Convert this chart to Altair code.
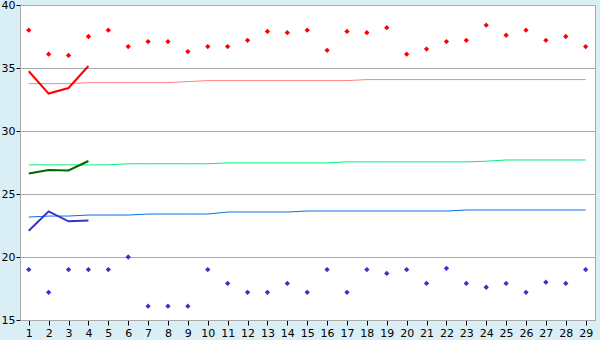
import altair as alt
import pandas as pd

days = list(range(1, 30))
red_pts = [38.0, 36.1, 36.0, 37.5, 38.0, 36.7, 37.1, 37.1, 36.3, 36.7,
           36.7, 37.2, 37.9, 37.8, 38.0, 36.4, 37.9, 37.8, 38.2, 36.1,
           36.5, 37.1, 37.2, 38.4, 37.6, 38.0, 37.2, 37.5, 36.7]
blue_pts = [19.0, 17.2, 19.0, 19.0, 19.0, 20.0, 16.1, 16.1, 16.1, 19.0,
            17.9, 17.2, 17.2, 17.9, 17.2, 19.0, 17.2, 19.0, 18.7, 19.0,
            17.9, 19.1, 17.9, 17.6, 17.9, 17.2, 18.0, 17.9, 19.0]
red_trend = [33.76, 33.76, 33.76, 33.84, 33.84, 33.84, 33.84, 33.84, 33.92, 34.0,
             34.0, 34.0, 34.0, 34.0, 34.0, 34.0, 34.0, 34.08, 34.08, 34.08,
             34.08, 34.08, 34.08, 34.08, 34.08, 34.08, 34.08, 34.08, 34.08]
green_trend = [27.31, 27.31, 27.31, 27.31, 27.31, 27.4, 27.4, 27.4, 27.4, 27.4,
               27.47, 27.47, 27.47, 27.47, 27.47, 27.47, 27.55, 27.55, 27.55, 27.55,
               27.55, 27.55, 27.55, 27.6, 27.7, 27.7, 27.7, 27.7, 27.7]
blue_trend = [23.17, 23.25, 23.25, 23.33, 23.33, 23.33, 23.41, 23.41, 23.41, 23.41,
              23.57, 23.57, 23.57, 23.57, 23.65, 23.65, 23.65, 23.65, 23.65, 23.65,
              23.65, 23.65, 23.73, 23.73, 23.73, 23.73, 23.73, 23.73, 23.73]
short_days = [1, 2, 3, 4]
red_line = [34.74, 32.97, 33.41, 35.16]
green_line = [26.63, 26.9, 26.87, 27.62]
blue_line = [22.09, 23.62, 22.83, 22.9]

pts = pd.DataFrame({
    "day": days * 2,
    "value": red_pts + blue_pts,
    "series": ["high"] * 29 + ["low"] * 29,
})
trend = pd.DataFrame({
    "day": days * 3,
    "value": red_trend + green_trend + blue_trend,
    "series": ["r"] * 29 + ["g"] * 29 + ["b"] * 29,
})
short = pd.DataFrame({
    "day": short_days * 3,
    "value": red_line + green_line + blue_line,
    "series": ["r"] * 4 + ["g"] * 4 + ["b"] * 4,
})

xs = alt.Scale(domain=[0.56, 29.47], nice=False, zero=False)
ys = alt.Scale(domain=[15, 40], nice=False, zero=False)
xax = alt.Axis(values=days, title=None, grid=False, tickSize=5, labelPadding=2,
               domainColor="#AAAAAA", tickColor="#000000", labelFontSize=11,
               labelFont="DejaVu Sans", labelColor="#000000")
yax = alt.Axis(values=[15, 20, 25, 30, 35, 40], title=None, grid=True, gridColor="#AAAAAA",
               gridOpacity=1, tickSize=4, labelPadding=1, domainColor="#AAAAAA",
               tickColor="#000000", labelFontSize=11, labelFont="DejaVu Sans",
               labelColor="#000000")

x = alt.X("day:Q", scale=xs, axis=xax)
y = alt.Y("value:Q", scale=ys, axis=yax)

thin = alt.Chart(trend).mark_line(strokeWidth=1).encode(
    x=x, y=y, detail="series:N",
    color=alt.Color("series:N", scale=alt.Scale(domain=["r", "g", "b"],
                    range=["#FF8080", "#00F080", "#0A70E0"]), legend=None),
)
thick = alt.Chart(short).mark_line(strokeWidth=2).encode(
    x=x, y=y, detail="series:N",
    color=alt.Color("series:N", scale=alt.Scale(domain=["r", "g", "b"],
                    range=["#FF0000", "#006600", "#3333CC"]), legend=None),
)
points = alt.Chart(pts).mark_point(shape="diamond", filled=True, size=28, opacity=1).encode(
    x=x, y=y,
    color=alt.Color("series:N", scale=alt.Scale(domain=["high", "low"],
                    range=["#FF0000", "#3333CC"]), legend=None),
)

chart = alt.layer(thin, thick, points).resolve_scale(color="independent").properties(
    width=575, height=315, autosize="none",
    padding={"left": 20, "top": 5, "right": 5, "bottom": 20},
    background="#D9EFF5",
).configure_view(fill="white", stroke="#AAAAAA")

chart.save("out.html", embed_options={"renderer": "svg", "actions": False})
